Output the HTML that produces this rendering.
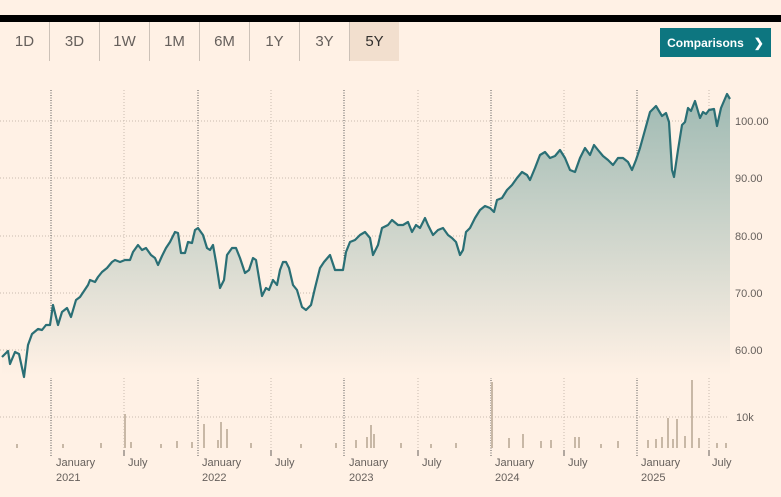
<!DOCTYPE html>
<html><head><meta charset="utf-8"><style>
body{margin:0;width:781px;height:497px;background:#fff1e5;font-family:"Liberation Sans",sans-serif;overflow:hidden;position:relative}
.bar{position:absolute;left:0;top:15px;width:781px;height:7px;background:#000}
.tabs{position:absolute;left:0;top:22px;height:39px;display:flex}
.tab{width:49px;height:39px;border-right:1px solid #ccc1b7;display:flex;align-items:center;justify-content:center;color:#66605c;font-size:15px}
.tab.a{background:#f2dfce;color:#33302e;border-right:none}
.btn{position:absolute;left:660px;top:28px;width:111px;height:29px;background:#0d7680;color:#fff;font-weight:bold;font-size:12px;display:flex;align-items:center;justify-content:center}
</style></head><body>
<div class="bar"></div>
<div class="tabs"><div class="tab">1D</div><div class="tab">3D</div><div class="tab">1W</div><div class="tab">1M</div><div class="tab">6M</div><div class="tab">1Y</div><div class="tab">3Y</div><div class="tab a">5Y</div></div>
<div class="btn">Comparisons&nbsp;&nbsp;&nbsp;❯</div>
<svg width="781" height="497" style="position:absolute;left:0;top:0">
<defs><linearGradient id="g" x1="0" y1="95" x2="0" y2="375" gradientUnits="userSpaceOnUse"><stop offset="0" stop-color="#9fbab3"/><stop offset="1" stop-color="#fff1e5"/></linearGradient></defs>
<g stroke="#c9bcb0" stroke-dasharray="1,2" stroke-width="1">
<line x1="0" x2="729" y1="121" y2="121"/><line x1="0" x2="729" y1="178" y2="178"/><line x1="0" x2="729" y1="236" y2="236"/><line x1="0" x2="729" y1="293" y2="293"/><line x1="0" x2="729" y1="350" y2="350"/><line x1="0" x2="729" y1="417" y2="417"/>
<line x1="124" x2="124" y1="90" y2="448"/><line x1="271" x2="271" y1="90" y2="448"/><line x1="418" x2="418" y1="90" y2="448"/><line x1="564" x2="564" y1="90" y2="448"/><line x1="709" x2="709" y1="90" y2="448"/>
</g>
<g stroke="#555" stroke-dasharray="1,1.5" stroke-width="1">
<line x1="51" x2="51" y1="90" y2="456"/><line x1="198" x2="198" y1="90" y2="456"/><line x1="344" x2="344" y1="90" y2="456"/><line x1="491" x2="491" y1="90" y2="456"/><line x1="637" x2="637" y1="90" y2="456"/>
</g>
<g stroke="#66605c"><line x1="124" x2="124" y1="450" y2="456"/><line x1="271" x2="271" y1="450" y2="456"/><line x1="418" x2="418" y1="450" y2="456"/><line x1="564" x2="564" y1="450" y2="456"/><line x1="709" x2="709" y1="450" y2="456"/></g>
<g fill="#c8b8a6">
<rect x="124" y="414" width="2" height="34"/><rect x="203" y="424" width="2" height="24"/><rect x="220" y="422" width="2" height="26"/><rect x="226" y="429" width="2" height="19"/><rect x="217" y="440" width="2" height="8"/><rect x="176" y="441" width="2" height="7"/><rect x="370" y="425" width="2" height="23"/><rect x="366" y="437" width="2" height="11"/><rect x="373" y="434" width="2" height="14"/><rect x="491" y="382" width="2" height="66"/><rect x="508" y="438" width="2" height="10"/><rect x="522" y="434" width="2" height="14"/><rect x="574" y="437" width="2" height="11"/><rect x="578" y="437" width="2" height="11"/><rect x="667" y="418" width="2" height="30"/><rect x="676" y="419" width="2" height="29"/><rect x="691" y="380" width="2" height="68"/><rect x="661" y="437" width="2" height="11"/><rect x="684" y="436" width="2" height="12"/><rect x="698" y="438" width="2" height="10"/>
<rect x="16" y="444" width="2" height="4"/><rect x="62" y="444" width="2" height="4"/><rect x="100" y="443" width="2" height="5"/><rect x="130" y="442" width="2" height="6"/><rect x="160" y="444" width="2" height="4"/><rect x="191" y="442" width="2" height="6"/><rect x="250" y="443" width="2" height="5"/><rect x="300" y="444" width="2" height="4"/><rect x="335" y="443" width="2" height="5"/><rect x="355" y="440" width="2" height="8"/><rect x="400" y="443" width="2" height="5"/><rect x="430" y="444" width="2" height="4"/><rect x="455" y="443" width="2" height="5"/><rect x="540" y="441" width="2" height="7"/><rect x="550" y="440" width="2" height="8"/><rect x="600" y="444" width="2" height="4"/><rect x="617" y="441" width="2" height="7"/><rect x="647" y="440" width="2" height="8"/><rect x="655" y="439" width="2" height="9"/><rect x="672" y="439" width="2" height="9"/><rect x="716" y="443" width="2" height="5"/><rect x="725" y="443" width="2" height="5"/>
</g>
<path id="p" d="M2,357 L8,351 L10,364 L15,352 L19,354 L24,377 L28,345 L32,334 L38,329 L42,330 L46,325 L50,325 L53,305 L58,325 L62,312 L67,308 L71,317 L76,300 L80,297 L88,285 L90,280 L95,282 L98,277 L102,272 L107,268 L112,262 L115,260 L120,262 L125,260 L130,260 L133,252 L138,245 L142,250 L146,248 L151,255 L155,258 L158,265 L162,256 L166,248 L170,242 L175,232 L178,233 L181,253 L185,253 L188,242 L192,243 L195,230 L198,228 L203,235 L207,248 L210,250 L213,245 L216,262 L220,288 L224,280 L227,255 L232,248 L236,248 L240,258 L245,273 L249,270 L253,258 L256,260 L262,296 L266,288 L269,290 L273,280 L277,285 L280,270 L283,262 L286,262 L289,268 L293,285 L297,290 L302,307 L306,310 L311,305 L315,288 L320,268 L324,262 L330,255 L335,270 L343,270 L346,252 L350,242 L355,240 L360,235 L365,232 L370,238 L373,255 L378,245 L382,228 L388,225 L392,220 L398,225 L403,225 L408,222 L412,232 L416,225 L420,228 L425,218 L428,225 L433,235 L438,230 L443,228 L448,235 L452,238 L456,242 L460,255 L463,250 L466,232 L470,228 L475,218 L480,210 L485,206 L490,208 L494,212 L497,200 L502,198 L507,190 L512,185 L517,178 L522,172 L527,175 L530,180 L535,168 L540,155 L545,152 L550,158 L555,156 L560,150 L565,158 L570,170 L575,172 L580,158 L585,148 L590,155 L594,145 L598,150 L603,156 L608,160 L613,165 L618,158 L623,158 L628,162 L632,170 L636,160 L640,148 L645,130 L650,112 L656,106 L662,116 L666,113 L669,122 L672,170 L674,177 L678,150 L682,125 L685,122 L688,108 L691,111 L695,101 L700,118 L703,112 L706,114 L709,110 L714,109 L717,126 L721,108 L727,94 L730,99" fill="none"/>
<path d="M2,357 L8,351 L10,364 L15,352 L19,354 L24,377 L28,345 L32,334 L38,329 L42,330 L46,325 L50,325 L53,305 L58,325 L62,312 L67,308 L71,317 L76,300 L80,297 L88,285 L90,280 L95,282 L98,277 L102,272 L107,268 L112,262 L115,260 L120,262 L125,260 L130,260 L133,252 L138,245 L142,250 L146,248 L151,255 L155,258 L158,265 L162,256 L166,248 L170,242 L175,232 L178,233 L181,253 L185,253 L188,242 L192,243 L195,230 L198,228 L203,235 L207,248 L210,250 L213,245 L216,262 L220,288 L224,280 L227,255 L232,248 L236,248 L240,258 L245,273 L249,270 L253,258 L256,260 L262,296 L266,288 L269,290 L273,280 L277,285 L280,270 L283,262 L286,262 L289,268 L293,285 L297,290 L302,307 L306,310 L311,305 L315,288 L320,268 L324,262 L330,255 L335,270 L343,270 L346,252 L350,242 L355,240 L360,235 L365,232 L370,238 L373,255 L378,245 L382,228 L388,225 L392,220 L398,225 L403,225 L408,222 L412,232 L416,225 L420,228 L425,218 L428,225 L433,235 L438,230 L443,228 L448,235 L452,238 L456,242 L460,255 L463,250 L466,232 L470,228 L475,218 L480,210 L485,206 L490,208 L494,212 L497,200 L502,198 L507,190 L512,185 L517,178 L522,172 L527,175 L530,180 L535,168 L540,155 L545,152 L550,158 L555,156 L560,150 L565,158 L570,170 L575,172 L580,158 L585,148 L590,155 L594,145 L598,150 L603,156 L608,160 L613,165 L618,158 L623,158 L628,162 L632,170 L636,160 L640,148 L645,130 L650,112 L656,106 L662,116 L666,113 L669,122 L672,170 L674,177 L678,150 L682,125 L685,122 L688,108 L691,111 L695,101 L700,118 L703,112 L706,114 L709,110 L714,109 L717,126 L721,108 L727,94 L730,99 L730,378 L2,378 Z" fill="url(#g)"/>
<use href="#p" stroke="#2a6f75" stroke-width="2.2" stroke-linejoin="round"/>
<g fill="#66605c" font-size="11" font-family="Liberation Sans,sans-serif">
<text x="735" y="125">100.00</text><text x="735" y="182">90.00</text><text x="735" y="240">80.00</text><text x="735" y="297">70.00</text><text x="735" y="354">60.00</text><text x="736" y="421">10k</text>
<text x="56" y="466">January</text><text x="56" y="481">2021</text><text x="128" y="466">July</text>
<text x="202" y="466">January</text><text x="202" y="481">2022</text><text x="275" y="466">July</text>
<text x="349" y="466">January</text><text x="349" y="481">2023</text><text x="422" y="466">July</text>
<text x="495" y="466">January</text><text x="495" y="481">2024</text><text x="568" y="466">July</text>
<text x="641" y="466">January</text><text x="641" y="481">2025</text><text x="712" y="466">July</text>
</g>
</svg>
</body></html>
